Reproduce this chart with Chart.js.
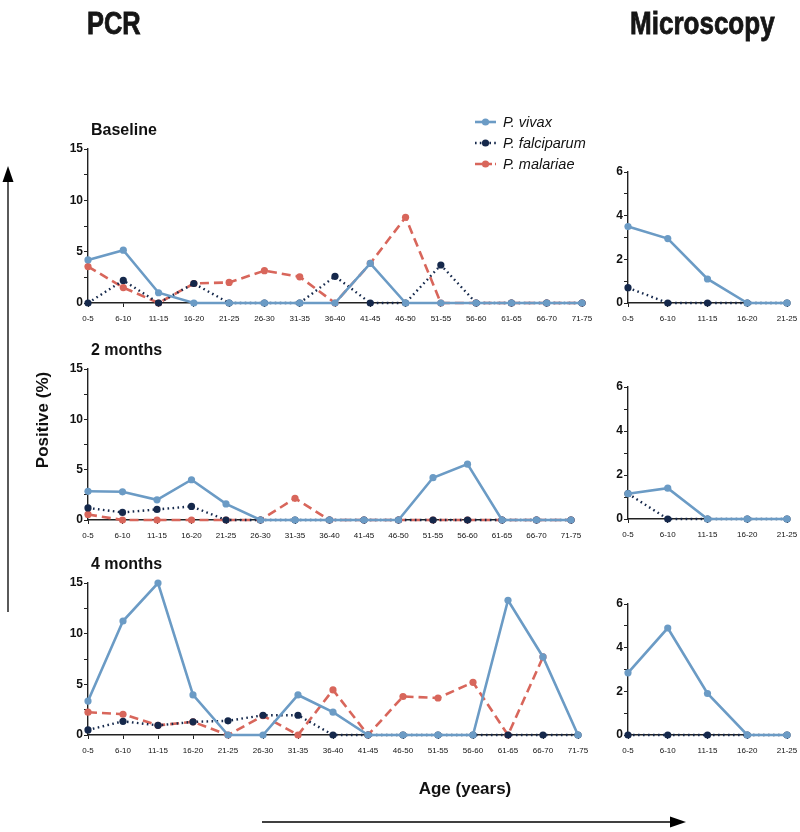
<!DOCTYPE html>
<html><head><meta charset="utf-8">
<script src="https://cdn.jsdelivr.net/npm/chart.js@4.4.1/dist/chart.umd.min.js"></script>
<style>
html,body{margin:0;padding:0;background:#fff;}
body{width:800px;height:832px;position:relative;overflow:hidden;}
.pan{position:absolute;}
#overlay{position:absolute;left:0;top:0;width:800px;height:832px;pointer-events:none;}
</style></head><body>
<svg id="overlay" xmlns="http://www.w3.org/2000/svg" width="800" height="832"></svg>
<script>
// ---------- data ----------
const pcrAgeGroups = ['0-5','6-10','11-15','16-20','21-25','26-30','31-35','36-40','41-45','46-50','51-55','56-60','61-65','66-70','71-75'];
const microAgeGroups = ['0-5','6-10','11-15','16-20','21-25'];
const speciesNames = ['P. vivax','P. falciparum','P. malariae'];

// PCR, Baseline
const pcrBaselineVivax      = [4.2, 5.15, 1.0, 0, 0, 0, 0, 0, 3.85, 0, 0, 0, 0, 0, 0];
const pcrBaselineFalciparum = [0, 2.2, 0, 1.9, 0, 0, 0, 2.6, 0, 0, 3.7, 0, 0, 0, 0];
const pcrBaselineMalariae   = [3.55, 1.5, 0, 1.9, 2.0, 3.15, 2.55, 0, 3.85, 8.35, 0, 0, 0, 0, 0];
// PCR, 2 months
const pcr2mVivax      = [2.85, 2.8, 2.0, 4.0, 1.6, 0, 0, 0, 0, 0, 4.2, 5.55, 0, 0, 0];
const pcr2mFalciparum = [1.2, 0.75, 1.05, 1.35, 0, 0, 0, 0, 0, 0, 0, 0, 0, 0, 0];
const pcr2mMalariae   = [0.55, 0, 0, 0, 0, 0, 2.15, 0, 0, 0, 0, 0, 0, 0, 0];
// PCR, 4 months
const pcr4mVivax      = [3.35, 11.25, 15.0, 3.95, 0, 0, 3.95, 2.25, 0, 0, 0, 0, 13.3, 7.7, 0];
const pcr4mFalciparum = [0.5, 1.35, 0.95, 1.3, 1.4, 1.95, 1.95, 0, 0, 0, 0, 0, 0, 0, 0];
const pcr4mMalariae   = [2.25, 2.05, 0.95, 1.3, 0, 1.9, 0, 4.45, 0, 3.8, 3.65, 5.2, 0, 7.7, null];
// Microscopy
const micBaselineVivax      = [3.5, 2.95, 1.1, 0, 0];
const micBaselineFalciparum = [0.7, 0, 0, 0, 0];
const mic2mVivax            = [1.15, 1.4, 0, 0, 0];
const mic2mFalciparum       = [1.15, 0, 0, 0, 0];
const mic4mVivax            = [2.85, 4.9, 1.9, 0, 0];
const mic4mFalciparum       = [0, 0, 0, 0, 0];

// ---------- styles ----------
const speciesColors = ['#6b9bc5', '#15284b', '#d8665b'];
const speciesDash   = [[], [1.6, 3.4], [9, 5]];
const speciesWidth  = [2.6, 2.4, 2.6];
const FONT = "'Liberation Sans',Arial,sans-serif";

function ds(idx, values) {
  return {
    label: speciesNames[idx], data: values,
    borderColor: speciesColors[idx], backgroundColor: speciesColors[idx],
    pointBackgroundColor: speciesColors[idx], pointBorderColor: speciesColors[idx],
    borderWidth: speciesWidth[idx], borderDash: speciesDash[idx],
    pointRadius: 3.6, pointBorderWidth: 0, pointHoverRadius: 3.6,
    tension: 0, clip: false, spanGaps: false
  };
}

function makePanel(box, labels, datasets, yMax, yStep, yLabelStep) {
  const L = box.left - 60, T = box.top - 20;
  const W = box.right - box.left + 80, H = box.bottom - box.top + 50;
  const div = document.createElement('div');
  div.className = 'pan';
  div.style.left = L + 'px'; div.style.top = T + 'px';
  div.style.width = W + 'px'; div.style.height = H + 'px';
  const c = document.createElement('canvas');
  c.width = W; c.height = H;
  div.appendChild(c);
  document.body.insertBefore(div, document.getElementById('overlay'));
  new Chart(c, {
    type: 'line',
    data: { labels: labels, datasets: datasets },
    options: {
      responsive: false, animation: false,
      layout: { padding: { left: 0, right: 20, top: 20, bottom: 0 } },
      plugins: { legend: { display: false }, tooltip: { enabled: false }, title: { display: false } },
      scales: {
        x: {
          type: 'category', offset: false,
          grid: { display: true, drawOnChartArea: false, drawTicks: true, tickLength: 4, color: '#222', lineWidth: 1 },
          border: { display: true, color: '#222', width: 1.4 },
          ticks: { autoSkip: false, maxRotation: 0, minRotation: 0, padding: 7, color: '#111',
                   font: { size: 8, family: FONT } },
          afterFit: s => { s.height = 30; }
        },
        y: {
          min: 0, max: yMax,
          grid: { display: true, drawOnChartArea: false, drawTicks: true, tickLength: 4, color: '#222', lineWidth: 1 },
          border: { display: true, color: '#222', width: 1.4 },
          ticks: { stepSize: yStep, padding: 1, color: '#111',
                   font: { size: 12, weight: 'bold', family: FONT },
                   callback: v => (Math.abs(v % yLabelStep) < 1e-6 ? String(v) : '') },
          afterFit: s => { s.width = 60; }
        }
      }
    }
  });
}

// panel boxes (plot area in page pixels)
makePanel({left: 88, right: 582, top: 149, bottom: 303.5}, pcrAgeGroups,
  [ds(0, pcrBaselineVivax), ds(1, pcrBaselineFalciparum), ds(2, pcrBaselineMalariae)], 15, 2.5, 5);
makePanel({left: 88, right: 571, top: 368.7, bottom: 519.7}, pcrAgeGroups,
  [ds(0, pcr2mVivax), ds(1, pcr2mFalciparum), ds(2, pcr2mMalariae)], 15, 2.5, 5);
makePanel({left: 88, right: 578, top: 583.3, bottom: 736}, pcrAgeGroups,
  [ds(0, pcr4mVivax), ds(1, pcr4mFalciparum), ds(2, pcr4mMalariae)], 15, 2.5, 5);

makePanel({left: 628, right: 787, top: 171.7, bottom: 303.2}, microAgeGroups,
  [ds(0, micBaselineVivax), ds(1, micBaselineFalciparum)], 6, 1, 2);
makePanel({left: 628, right: 787, top: 387.3, bottom: 519.7}, microAgeGroups,
  [ds(0, mic2mVivax), ds(1, mic2mFalciparum)], 6, 1, 2);
makePanel({left: 628, right: 787, top: 604.3, bottom: 736}, microAgeGroups,
  [ds(0, mic4mVivax), ds(1, mic4mFalciparum)], 6, 1, 2);

// ---------- overlay: titles, legend, arrows ----------
const svg = document.getElementById('overlay');
const NS = 'http://www.w3.org/2000/svg';
function el(tag, attrs, text) {
  const e = document.createElementNS(NS, tag);
  for (const k in attrs) e.setAttribute(k, attrs[k]);
  if (text !== undefined) e.textContent = text;
  svg.appendChild(e);
  return e;
}
const bigTitle = {'font-family': FONT, 'font-weight': 'bold', 'font-size': 31, fill: '#161616',
                  stroke: '#161616', 'stroke-width': 0.8};
el('text', Object.assign({x: 0, y: 0, transform: 'translate(87,34) scale(0.82,1)'}, bigTitle), 'PCR');
el('text', Object.assign({x: 0, y: 0, transform: 'translate(630,34) scale(0.84,1)'}, bigTitle), 'Microscopy');
const sub = {'font-family': FONT, 'font-weight': 'bold', 'font-size': 16, fill: '#111'};
el('text', Object.assign({x: 91, y: 135}, sub), 'Baseline');
el('text', Object.assign({x: 91, y: 355}, sub), '2 months');
el('text', Object.assign({x: 91, y: 569}, sub), '4 months');
el('text', Object.assign({x: 0, y: 0, 'text-anchor': 'middle', transform: 'translate(48,420) rotate(-90)'}, sub, {'font-size': 17}), 'Positive (%)');
el('text', Object.assign({x: 465, y: 794, 'text-anchor': 'middle'}, sub, {'font-size': 17}), 'Age (years)');

// arrows
el('line', {x1: 8, y1: 612, x2: 8, y2: 180, stroke: '#000', 'stroke-width': 1.3});
el('polygon', {points: '8,166 2.5,182 13.5,182', fill: '#000'});
el('line', {x1: 262, y1: 822, x2: 672, y2: 822, stroke: '#000', 'stroke-width': 1.3});
el('polygon', {points: '686,822 670,816.5 670,827.5', fill: '#000'});

// legend
const legendRows = [122, 143, 164];
speciesNames.forEach((name, i) => {
  const y = legendRows[i];
  el('line', {x1: 475, y1: y, x2: 496, y2: y, stroke: speciesColors[i], 'stroke-width': speciesWidth[i],
              'stroke-dasharray': speciesDash[i].length ? (i === 2 ? '7,3' : '1.6,3.2') : 'none'});
  el('circle', {cx: 485.5, cy: y, r: 3.6, fill: speciesColors[i]});
  el('text', {x: 503, y: y + 5, 'font-family': FONT, 'font-style': 'italic', 'font-size': 14.5, fill: '#111'}, name);
});
</script>
</body></html>
